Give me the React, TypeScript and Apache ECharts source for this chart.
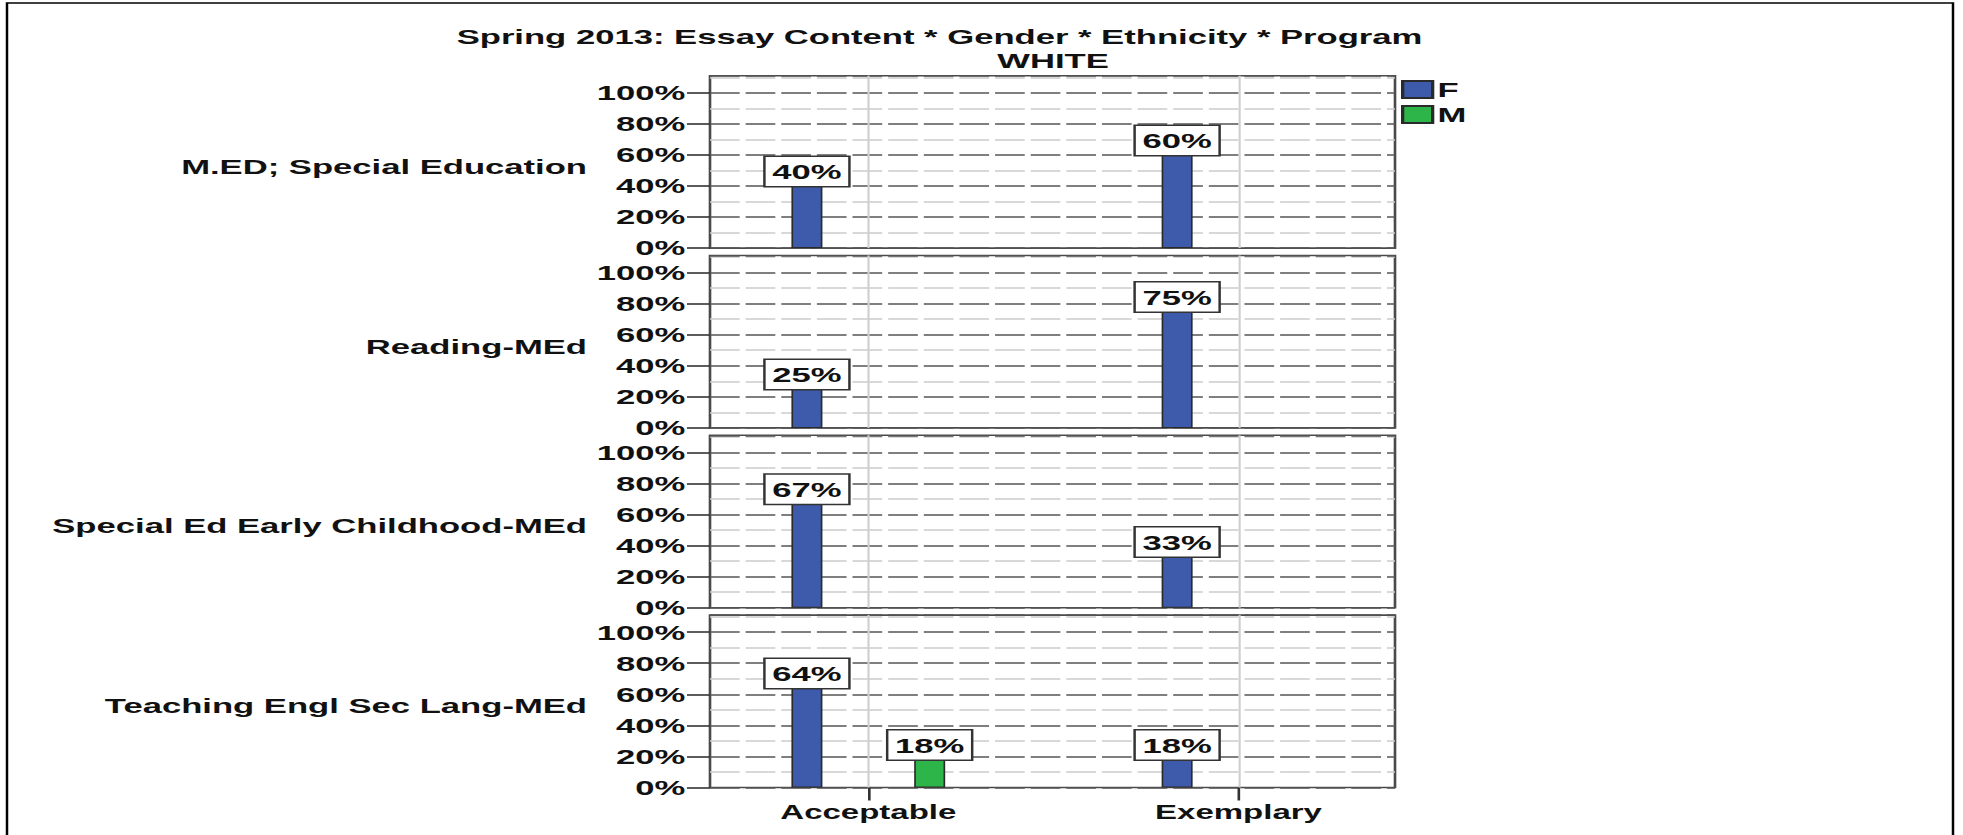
import React, { useEffect, useRef } from 'react';
import * as echarts from 'echarts';

// ---------- data ----------
const TITLE = 'Spring 2013: Essay Content * Gender * Ethnicity * Program';
const SUBTITLE = 'WHITE';
const programs = [
  'M.ED; Special Education',
  'Reading-MEd',
  'Special Ed Early Childhood-MEd',
  'Teaching Engl Sec Lang-MEd',
];
const categories = ['Acceptable', 'Exemplary'];
const genders = ['F', 'M'];
const femaleValues: (number | null)[][] = [
  [40, 60],
  [25, 75],
  [67, 33],
  [64, 18],
];
const maleValues: (number | null)[][] = [
  [null, null],
  [null, null],
  [null, null],
  [18, null],
];

// ---------- layout ----------
const FULL_W = 1963;
const H = 835;
const W = 1190; // the reference is stretched horizontally; draw narrow then scale
const K = W / FULL_W;
const sx = (v: number) => v * K;
const FONT = '"Liberation Sans", Arial, Helvetica, sans-serif';
const BLUE = '#3E5AAB';
const GREEN = '#2EB54A';
const YMAX = 111;

const frameLeft = sx(710);
const frameWidth = sx(1395) - frameLeft;
const cat0 = sx(868.3);
const cat1 = sx(1238.5);
const band = cat1 - cat0;
const barLeft = cat0 - band / 2;
const barWidthGrid = band * 2;
const panelTop0 = 75.7;
const panelPitch = 179.8;
const panelH = 172.4;

function buildOption() {
  const grid: any[] = [];
  const xAxis: any[] = [];
  const yAxis: any[] = [];
  const series: any[] = [];

  programs.forEach((prog, i) => {
    const top = panelTop0 + i * panelPitch;
    const labelTop = top + (panelH * (YMAX - 100)) / YMAX;
    const labelH = (panelH * 100) / YMAX;
    const last = i === programs.length - 1;

    // frame grid
    grid.push({
      left: frameLeft, top, width: frameWidth, height: panelH,
      show: true, borderColor: '#4a4a4a', borderWidth: 1.6,
    });
    // label grid
    grid.push({ left: frameLeft, top: labelTop, width: frameWidth, height: labelH });
    // bar grid
    grid.push({ left: barLeft, top, width: barWidthGrid, height: panelH });

    const fi = 3 * i, li = 3 * i + 1, bi = 3 * i + 2;

    xAxis.push({ gridIndex: fi, type: 'value', min: 0, max: 1, show: false });
    xAxis.push({ gridIndex: li, type: 'value', min: 0, max: 1, show: false });
    xAxis.push({
      gridIndex: bi,
      type: 'category',
      data: categories,
      axisLine: { show: false },
      axisTick: { show: last, alignWithLabel: true, length: 13, lineStyle: { color: '#333', width: 1.6 } },
      axisLabel: { show: last, margin: 15, fontSize: 20, fontWeight: 'bold', color: '#111', fontFamily: FONT },
      splitLine: { show: false },
    });

    yAxis.push({
      gridIndex: fi,
      type: 'value',
      min: 0,
      max: YMAX,
      interval: 10,
      name: prog,
      nameLocation: 'middle',
      nameRotate: 0,
      nameGap: frameLeft - sx(587),
      nameTextStyle: {
        fontSize: 21, fontWeight: 'bold', color: '#111', fontFamily: FONT,
        verticalAlign: 'top', lineHeight: 9,
      },
      axisLabel: { show: false },
      axisTick: { show: false },
      axisLine: { show: false },
      splitLine: {
        show: true,
        lineStyle: { color: ['#555555', '#cbcbcb'], type: [18, 3.6], width: 1.7 },
      },
    });
    yAxis.push({
      gridIndex: li,
      type: 'value',
      min: 0,
      max: 100,
      interval: 20,
      axisLabel: {
        formatter: '{value}%', margin: 15, fontSize: 21, fontWeight: 'bold',
        color: '#111', fontFamily: FONT,
      },
      axisTick: { show: true, length: sx(23), lineStyle: { color: '#333', width: 1.6 } },
      axisLine: { show: false },
      splitLine: { show: false },
    });
    yAxis.push({ gridIndex: bi, type: 'value', min: 0, max: YMAX, show: false });

    const label = {
      show: true,
      position: 'top',
      distance: 0,
      formatter: '{c}%',
      backgroundColor: '#fff',
      borderColor: '#333',
      borderWidth: 1.5,
      padding: [4, 4, 3, 4],
      fontSize: 21,
      lineHeight: 22,
      fontWeight: 'bold',
      color: '#111',
      fontFamily: FONT,
    };

    // category centre reference lines (from an empty line series so they sit at the band centre)
    series.push({
      type: 'line',
      name: 'ref' + i,
      xAxisIndex: bi,
      yAxisIndex: bi,
      data: [null, null],
      showSymbol: false,
      silent: true,
      z: 1,
      markLine: {
        silent: true,
        symbol: ['none', 'none'],
        label: { show: false },
        lineStyle: { color: '#cfcfcf', type: 'solid', width: 1.3 },
        data: categories.map((c) => ({ xAxis: c })),
      },
    });

    series.push({
      type: 'bar',
      name: genders[0],
      xAxisIndex: bi,
      yAxisIndex: bi,
      data: femaleValues[i],
      barWidth: sx(31),
      barGap: '296%',
      z: 3,
      itemStyle: { color: BLUE, borderColor: '#2a2a2a', borderWidth: 1 },
      label,
    });
    series.push({
      type: 'bar',
      name: genders[1],
      xAxisIndex: bi,
      yAxisIndex: bi,
      data: maleValues[i],
      barWidth: sx(31),
      barGap: '296%',
      z: 3,
      itemStyle: { color: GREEN, borderColor: '#2a2a2a', borderWidth: 1 },
      label,
    });
  });

  return {
    animation: false,
    backgroundColor: '#ffffff',
    textStyle: { fontFamily: FONT },
    legend: {
      data: genders,
      orient: 'vertical',
      left: sx(1401),
      top: 79,
      padding: 0,
      itemWidth: sx(30),
      itemHeight: 17,
      itemGap: 4,
      icon: 'rect',
      textStyle: { fontSize: 21, fontWeight: 'bold', color: '#111', fontFamily: FONT, padding: [0, 0, 0, -2] },
    },
    grid,
    xAxis,
    yAxis,
    series,
    graphic: [
      {
        type: 'rect',
        silent: true,
        shape: { x: sx(7), y: 3, width: sx(1953 - 7), height: 850 },
        style: { fill: 'none', stroke: '#000', lineWidth: 1.5 },
      },
      {
        type: 'text',
        silent: true,
        x: sx(939.5),
        y: 37,
        style: {
          text: TITLE, align: 'center', verticalAlign: 'middle',
          fontSize: 21, fontWeight: 'bold', fontFamily: FONT, fill: '#111',
        },
      },
      {
        type: 'text',
        silent: true,
        x: sx(1053),
        y: 61,
        style: {
          text: SUBTITLE, align: 'center', verticalAlign: 'middle',
          fontSize: 21, fontWeight: 'bold', fontFamily: FONT, fill: '#111',
        },
      },
    ],
  };
}

export default function App() {
  const ref = useRef<HTMLDivElement>(null);
  useEffect(() => {
    if (!ref.current) return;
    const chart = echarts.init(ref.current, null, { renderer: 'svg', width: W, height: H });
    chart.setOption(buildOption());
    return () => chart.dispose();
  }, []);
  return (
    <div
      ref={ref}
      style={{
        position: 'absolute',
        left: 0,
        top: 0,
        width: W,
        height: H,
        background: '#fff',
        transform: `scaleX(${FULL_W / W})`,
        transformOrigin: '0 0',
      }}
    />
  );
}
